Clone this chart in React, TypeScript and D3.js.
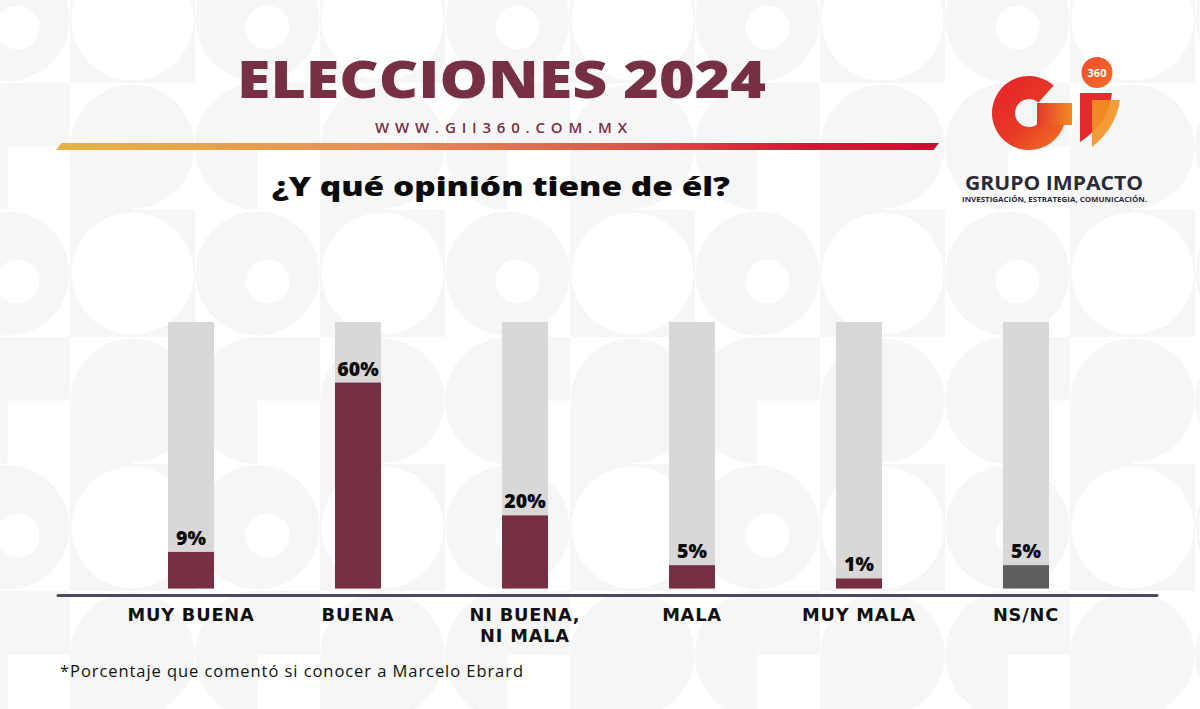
import React from "react";
import * as d3 from "d3";

// ---------- data ----------
const categories = ["MUY BUENA", "BUENA", "NI BUENA, NI MALA", "MALA", "MUY MALA", "NS/NC"];
const categoryLines = [["MUY BUENA"], ["BUENA"], ["NI BUENA,", "NI MALA"], ["MALA"], ["MUY MALA"], ["NS/NC"]];
const values = [9, 60, 20, 5, 1, 5];
const valueLabels = ["9%", "60%", "20%", "5%", "1%", "5%"];
const isNoAnswer = [false, false, false, false, false, true];

const TITLE = "ELECCIONES 2024";
const URL_TEXT = "WWW.GII360.COM.MX";
const SUBTITLE = "¿Y qué opinión tiene de él?";
const FOOTNOTE = "*Porcentaje que comentó si conocer a Marcelo Ebrard";

// ---------- layout ----------
const W = 1200;
const H = 709;
const MAROON = "#762f43";
const TRACK = "#d9d7d8";
const NSNC = "#5e5e5e";
const GRAYBG = "#f6f6f6";
const FONT = "'Open Sans', 'DejaVu Sans', sans-serif";
const LABEL_FONT = "'DejaVu Sans', 'Open Sans', sans-serif";

const barW = 46;
const barBottom = 588.5;
const trackTop = 322;
const axisY = 595.5;

const x = d3.scalePoint<string>().domain(categories).range([191, 1026]);
const y = d3.scaleLinear().domain([0, 100]).range([barBottom - 6.7, barBottom - 6.7 - 332]);

function Background() {
  const cw = 125;
  const ch = 127;
  return (
    <>
      <defs>
        <pattern id="bgp" patternUnits="userSpaceOnUse" width={cw * 2} height={ch * 2} x={-55} y={-44}>
          <rect width={cw * 2} height={ch * 2} fill="#ffffff" />
          <circle cx={cw / 2} cy={ch / 2} r={62} fill={GRAYBG} />
          <circle cx={cw / 2 + 10} cy={ch / 2 + 8} r={22} fill="#ffffff" />
          <rect x={cw} y={0} width={cw} height={ch} fill={GRAYBG} />
          <circle cx={cw * 1.5} cy={ch / 2} r={61} fill="#ffffff" />
          <path d={`M${cw / 2},${ch} A${cw / 2},${ch / 2} 0 0 0 ${cw / 2},${ch * 2} Z`} fill={GRAYBG} />
          <rect x={cw / 2} y={ch} width={cw / 2} height={ch / 2} fill={GRAYBG} />
          <circle cx={cw * 1.5} cy={ch * 1.5} r={62} fill={GRAYBG} />
          <rect x={cw} y={ch * 1.5} width={cw / 2} height={ch / 2} fill={GRAYBG} />
        </pattern>
      </defs>
      <rect width={W} height={H} fill="url(#bgp)" />
    </>
  );
}

function Logo() {
  const cx = 1029;
  const cy = 113;
  const ring = d3.arc()({
    innerRadius: 14,
    outerRadius: 37,
    startAngle: (90 * Math.PI) / 180,
    endAngle: (402 * Math.PI) / 180,
  } as any) as string;
  return (
    <g>
      <defs>
        <linearGradient id="gGrad" x1="0" y1="0" x2="1" y2="1">
          <stop offset="0%" stopColor="#e4202b" />
          <stop offset="55%" stopColor="#e93a27" />
          <stop offset="100%" stopColor="#f47a20" />
        </linearGradient>
        <linearGradient id="barGrad" x1="0" y1="0" x2="1" y2="0">
          <stop offset="0%" stopColor="#e53a2c" />
          <stop offset="100%" stopColor="#f28a22" />
        </linearGradient>
        <linearGradient id="dotGrad" x1="0" y1="0" x2="1" y2="1">
          <stop offset="0%" stopColor="#f04a2a" />
          <stop offset="100%" stopColor="#f2702a" />
        </linearGradient>
      </defs>
      <path d={ring} transform={`translate(${cx},${cy})`} fill="url(#gGrad)" />
      <rect x={cx + 8} y={cy - 10} width={35} height={22} fill="url(#barGrad)" />
      <path d="M1080,93 L1112,93 Q1109,123 1080,142 Z" fill="#e42a2a" />
      <path d="M1092,100 L1120,100 Q1116,128 1092,147 Z" fill="#f39224" opacity={0.9} />
      <circle cx={1097} cy={72.5} r={15.5} fill="url(#dotGrad)" />
      <text x={1097} y={76.5} textAnchor="middle" fontFamily={FONT} fontWeight={700} fontSize={11} fill="#ffffff">
        360
      </text>
      <text x={1054} y={190} textAnchor="middle" fontFamily={FONT} fontWeight={700} fontSize={20} fill="#2b2a36" textLength={178} lengthAdjust="spacingAndGlyphs">
        GRUPO IMPACTO
      </text>
      <text x={1054.5} y={202} textAnchor="middle" fontFamily={FONT} fontWeight={700} fontSize={7.4} fill="#2b2a36" textLength={185} lengthAdjust="spacingAndGlyphs">
        INVESTIGACIÓN, ESTRATEGIA, COMUNICACIÓN.
      </text>
    </g>
  );
}

function Header() {
  return (
    <g>
      <defs>
        <linearGradient id="ruleGrad" x1="0" y1="0" x2="1" y2="0">
          <stop offset="0%" stopColor="#e2b545" />
          <stop offset="38%" stopColor="#e68d5a" />
          <stop offset="62%" stopColor="#d95e4d" />
          <stop offset="85%" stopColor="#c71f35" />
          <stop offset="100%" stopColor="#c8102e" />
        </linearGradient>
      </defs>
      <text x={501.5} y={98} textAnchor="middle" fontFamily={FONT} fontWeight={800} fontSize={52} fill={MAROON} textLength={529} lengthAdjust="spacingAndGlyphs">
        {TITLE}
      </text>
      <text x={501} y={133} textAnchor="middle" fontFamily={FONT} fontWeight={600} fontSize={15} fill={MAROON} textLength={252} lengthAdjust="spacing">
        {URL_TEXT}
      </text>
      <path d="M56,150 L61.5,143 L939,143 L933.5,150 Z" fill="url(#ruleGrad)" />
      <text x={501} y={196} textAnchor="middle" fontFamily={FONT} fontWeight={800} fontSize={27} fill="#0b0b0b" textLength={458} lengthAdjust="spacingAndGlyphs">
        {SUBTITLE}
      </text>
    </g>
  );
}

function Bars() {
  return (
    <g>
      {categories.map((c, i) => {
        const cx = x(c) as number;
        const top = y(values[i]);
        return (
          <g key={c}>
            <rect x={cx - barW / 2} y={trackTop} width={barW} height={barBottom - trackTop} fill={TRACK} />
            <rect x={cx - barW / 2} y={top} width={barW} height={barBottom - top} fill={isNoAnswer[i] ? NSNC : MAROON} />
            <text x={cx} y={top - 7} textAnchor="middle" fontFamily={FONT} fontWeight={800} fontSize={19.5} fill="#0b0b0b">
              {valueLabels[i]}
            </text>
            {categoryLines[i].map((line, k) => (
              <text key={k} x={cx} y={621 + k * 21} textAnchor="middle" fontFamily={LABEL_FONT} fontWeight={600} fontSize={17.8} letterSpacing={0.8} fill="#111111">
                {line}
              </text>
            ))}
          </g>
        );
      })}
      <line x1={58} x2={1157} y1={axisY} y2={axisY} stroke="#4b4a5e" strokeWidth={3} strokeLinecap="round" />
    </g>
  );
}

export default function App() {
  return (
    <svg width={W} height={H} viewBox={`0 0 ${W} ${H}`} style={{ position: "absolute", left: 0, top: 0, display: "block" }}>
      <Background />
      <Header />
      <Logo />
      <Bars />
      <text x={60} y={677} fontFamily={FONT} fontWeight={400} fontSize={16.5} fill="#111111" textLength={463} lengthAdjust="spacing">
        {FOOTNOTE}
      </text>
    </svg>
  );
}
